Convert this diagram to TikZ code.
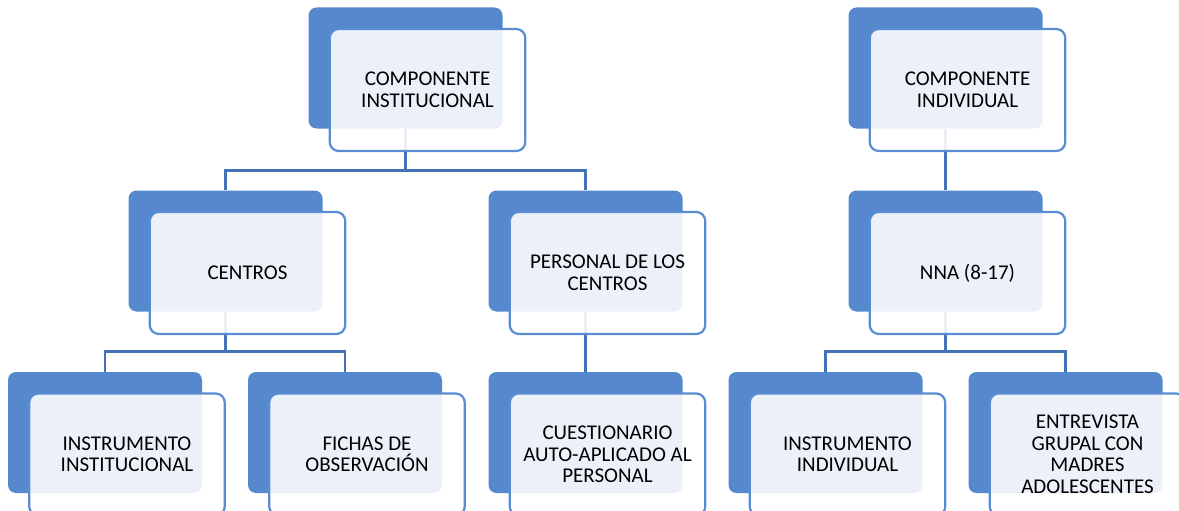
\documentclass[tikz,border=0pt]{standalone}
\usepackage{fontspec}
\setmainfont{Carlito}
\usetikzlibrary{positioning}
\definecolor{boxblue}{RGB}{85,136,204}
\definecolor{lineblue}{RGB}{68,114,180}
\definecolor{edgeblue}{RGB}{91,140,210}
\tikzset{
  backbox/.style={fill=boxblue, rounded corners=8pt, minimum width=194pt, minimum height=121pt},
  frontbox/.style={draw=edgeblue, line width=2.2pt, fill=white, fill opacity=0.89, text opacity=1,
    rounded corners=9pt, minimum width=195.5pt, minimum height=122pt, align=center,
    font=\fontsize{21}{21.5}\selectfont, shift={(22,22)}},
  link/.style={draw=lineblue, line width=2.5pt}
}
\begin{document}
\begin{tikzpicture}[x=1pt, y=-1pt]
\useasboundingbox (0,0) rectangle (1179,511);
% back boxes
\node [backbox] (ci) at (405.5,68) {};
\node [backbox] (centros) at (225.5,251) {};
\node [backbox] (personal) at (585.5,251) {};
\node [backbox] (iinst) at (105,432.5) {};
\node [backbox] (fichas) at (345,432.5) {};
\node [backbox] (cuest) at (585.5,432.5) {};
\node [backbox] (cind) at (945.5,68) {};
\node [backbox] (nna) at (945.5,251) {};
\node [backbox] (iind) at (825.5,432.5) {};
\node [backbox] (entrev) at (1065.5,432.5) {};
% connectors
\draw [link] (ci.south) -- ++(0,42) -| (centros.north);
\draw [link] (ci.south) -- ++(0,42) -| (personal.north);
\draw [link] (centros.south) -- ++(0,40) -| (iinst.north);
\draw [link] (centros.south) -- ++(0,40) -| (fichas.north);
\draw [link] (personal.south) -- (cuest.north);
\draw [link] (cind.south) -- (nna.north);
\draw [link] (nna.south) -- ++(0,40) -| (iind.north);
\draw [link] (nna.south) -- ++(0,40) -| (entrev.north);
% front boxes
\node [frontbox] (ci-t) at (ci) {COMPONENTE\\INSTITUCIONAL};
\node [frontbox] (centros-t) at (centros) {CENTROS};
\node [frontbox] (personal-t) at (personal) {PERSONAL DE LOS\\CENTROS};
\node [frontbox] (iinst-t) at (iinst) {INSTRUMENTO\\INSTITUCIONAL};
\node [frontbox] (fichas-t) at (fichas) {FICHAS DE\\OBSERVACIÓN};
\node [frontbox] (cuest-t) at (cuest) {CUESTIONARIO\\AUTO-APLICADO AL\\PERSONAL};
\node [frontbox] (cind-t) at (cind) {COMPONENTE\\INDIVIDUAL};
\node [frontbox] (nna-t) at (nna) {NNA (8-17)};
\node [frontbox] (iind-t) at (iind) {INSTRUMENTO\\INDIVIDUAL};
\node [frontbox] (entrev-t) at (entrev) {ENTREVISTA\\GRUPAL CON\\MADRES\\ADOLESCENTES};
\end{tikzpicture}
\end{document}
